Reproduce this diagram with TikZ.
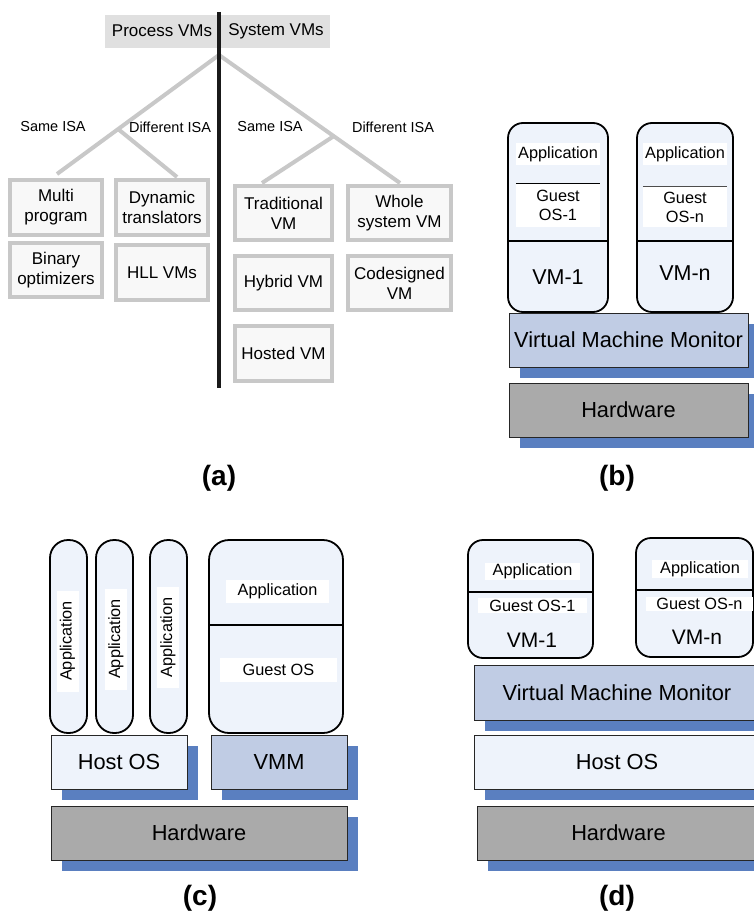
\documentclass[tikz,border=0pt]{standalone}
\usepackage{fontspec}
\setmainfont{Liberation Sans}
\usetikzlibrary{shadows}
\definecolor{lblue}{HTML}{EEF3FB}
\definecolor{vmmc}{HTML}{C0CCE4}
\definecolor{shad}{HTML}{5A7FC0}
\definecolor{hwc}{HTML}{AAAAAA}
\definecolor{tgray}{HTML}{C8C8C8}
\definecolor{tfill}{HTML}{F8F8F8}
\definecolor{hdr}{HTML}{E0E0E0}
\tikzset{
  tbox/.style={draw=tgray, line width=3.5pt, fill=tfill, align=center, inner sep=0pt,
    font=\fontsize{17}{20}\selectfont},
  tline/.style={draw=tgray, line width=4pt},
  isa/.style={font=\fontsize{14.5}{17}\selectfont},
  hdrtext/.style={font=\fontsize{17}{20}\selectfont, inner sep=0pt},
  layer/.style={draw=black!85, line width=1pt, inner sep=0pt, minimum height=54pt,
    font=\fontsize{21.8}{24}\selectfont,
    drop shadow={shadow xshift=11pt, shadow yshift=-11pt, fill=shad, opacity=1}},
  vmb/.style={draw=black, line width=1.8pt, fill=lblue, rounded corners=15pt, inner sep=0pt},
  wlab/.style={fill=white, inner sep=0pt, align=center, font=\fontsize{16.3}{19}\selectfont},
  vmtext/.style={inner sep=0pt, font=\fontsize{21.5}{24}\selectfont},
  divider/.style={draw=black, line width=1.3pt},
  thindiv/.style={draw=black, line width=0.9pt},
  panel/.style={font=\fontsize{28}{32}\selectfont\bfseries, inner sep=0pt}
}
\begin{document}
\begin{tikzpicture}[x=1pt,y=-1pt]
\useasboundingbox (0,0) rectangle (754,920);
\clip (0,0) rectangle (754,920);
\fill[white] (0,0) rectangle (754,920);

% ---------------- (a) ----------------
\fill[hdr] (105,15) rectangle (330,48);
\node[hdrtext] (proc) at (162,31) {Process VMs};
\node[hdrtext] (sys) at (276,31) {System VMs};

\coordinate (apex) at (219,55);
\coordinate (lend) at (57,174);
\coordinate (lbr) at (118,129);
\coordinate (lbrend) at (177,177);
\coordinate (rend) at (400,183);
\coordinate (rbr) at (334,136);
\coordinate (rbrend) at (262,183);
\draw[tline] (apex) -- (lend);
\draw[tline] (lbr) -- (lbrend);
\draw[tline] (apex) -- (rend);
\draw[tline] (rbr) -- (rbrend);

\node[isa] (l1) at (53,127) {Same ISA};
\node[isa] (l2) at (170,127) {Different ISA};
\node[isa] (l3) at (270,127) {Same ISA};
\node[isa] (l4) at (393,127) {Different ISA};

\node[tbox, minimum width=92pt, minimum height=55pt] (multi) at (56,207.5) {Multi\\program};
\node[tbox, minimum width=92pt, minimum height=54pt] (binary) at (56,270) {Binary\\optimizers};
\node[tbox, minimum width=92pt, minimum height=55pt] (dyn) at (162,207.5) {Dynamic\\translators};
\node[tbox, minimum width=92pt, minimum height=55pt] (hll) at (162,272.5) {HLL VMs};
\node[tbox, minimum width=97pt, minimum height=54pt] (trad) at (283.5,213) {Traditional\\VM};
\node[tbox, minimum width=103pt, minimum height=54pt] (whole) at (399.5,213) {Whole\\system VM};
\node[tbox, minimum width=97pt, minimum height=54pt] (hybrid) at (283.5,283) {Hybrid VM};
\node[tbox, minimum width=103pt, minimum height=54pt] (codes) at (399.5,283) {Codesigned\\VM};
\node[tbox, minimum width=97pt, minimum height=55pt] (hosted) at (283.5,353.5) {Hosted VM};

\coordinate (vtop) at (219,12);
\coordinate (vbot) at (219,388);
\draw[black!90, line width=4pt] (vtop) -- (vbot);

\node[panel] (pa) at (219,478) {(a)};

% ---------------- (b) ----------------
\node[vmb, minimum width=100pt, minimum height=189pt] (bvm1) at (558,217.5) {};
\node[vmb, minimum width=96pt, minimum height=189pt] (bvmn) at (685,217.5) {};
\node[wlab, minimum width=84pt, minimum height=22pt] (bapp1) at (558,154) {Application};
\node[wlab, minimum width=84pt, minimum height=43pt] (bgos1) at (558,205.5) {Guest\\OS-1};
\node[wlab, minimum width=84pt, minimum height=22pt] (bappn) at (685,154) {Application};
\node[wlab, minimum width=84pt, minimum height=40pt] (bgosn) at (685,207) {Guest\\OS-n};
\draw[thindiv] (bgos1.north west) -- (bgos1.north east);
\draw[thindiv, black!70] (bgosn.north west) -- (bgosn.north east);
\draw[divider] (bvm1.west |- 0,241) -- (bvm1.east |- 0,241);
\draw[divider] (bvmn.west |- 0,241) -- (bvmn.east |- 0,241);
\node[vmtext] (bt1) at (558,277) {VM-1};
\node[vmtext] (btn) at (685,273) {VM-n};

\node[layer, fill=vmmc, minimum width=239pt] (bvmm) at (628.5,340) {Virtual Machine Monitor};
\node[layer, fill=hwc, minimum width=239pt] (bhw) at (628.5,410) {Hardware};
\node[panel] (pb) at (617,478) {(b)};

% ---------------- (c) ----------------
\node[vmb, rounded corners=18pt, minimum width=37pt, minimum height=193pt] (cp1) at (68.5,636.5) {};
\node[vmb, rounded corners=18pt, minimum width=37pt, minimum height=193pt] (cp2) at (114.5,636.5) {};
\node[vmb, rounded corners=18pt, minimum width=37pt, minimum height=193pt] (cp3) at (168.5,636.5) {};
\node[wlab, rotate=90, minimum width=101pt, minimum height=22pt] (ca1) at (67.5,641) {Application};
\node[wlab, rotate=90, minimum width=101pt, minimum height=22pt] (ca2) at (116,639) {Application};
\node[wlab, rotate=90, minimum width=101pt, minimum height=22pt] (ca3) at (168,637.5) {Application};

\node[vmb, rounded corners=20pt, minimum width=134pt, minimum height=193pt] (cbig) at (276,636.5) {};
\draw[divider] (cbig.west |- 0,625) -- (cbig.east |- 0,625);
\node[wlab, minimum width=103pt, minimum height=23pt] (capp) at (277.5,591.5) {Application};
\node[wlab, minimum width=117pt, minimum height=24pt] (cgos) at (278.5,670) {Guest OS};

\node[layer, fill=lblue, minimum width=136pt] (chost) at (119,762) {Host OS};
\node[layer, fill=vmmc, minimum width=136pt] (cvmm) at (279,762) {VMM};
\node[layer, fill=hwc, minimum width=296pt] (chw) at (199,833) {Hardware};
\node[panel] (pc) at (200,898) {(c)};

% ---------------- (d) ----------------
\node[vmb, minimum width=125pt, minimum height=118pt] (dvm1) at (530.5,599) {};
\node[vmb, minimum width=117pt, minimum height=119pt] (dvmn) at (694.5,597.5) {};
\draw[divider] (dvm1.west |- 0,592) -- (dvm1.east |- 0,592);
\draw[divider] (dvmn.west |- 0,590) -- (dvmn.east |- 0,590);
\node[wlab, minimum width=95pt, minimum height=17pt] (dapp1) at (532.5,571.5) {Application};
\node[wlab, minimum width=109pt, minimum height=15pt] (dgos1) at (532.5,605.5) {Guest OS-1};
\node[vmtext, font=\fontsize{21}{24}\selectfont] (dt1) at (532,640) {VM-1};
\node[wlab, minimum width=96pt, minimum height=18pt] (dappn) at (700,569) {Application};
\node[wlab, minimum width=107pt, minimum height=14pt] (dgosn) at (699.5,604) {Guest OS-n};
\node[vmtext, font=\fontsize{21}{24}\selectfont] (dtn) at (697,637) {VM-n};

\node[layer, fill=vmmc, minimum width=286pt, minimum height=55pt,
  drop shadow={shadow xshift=11pt, shadow yshift=-10pt, fill=shad, opacity=1}] (dvmm) at (617,692.5) {Virtual Machine Monitor};
\node[layer, fill=lblue, minimum width=286pt] (dhost) at (617,762) {Host OS};
\node[layer, fill=hwc, minimum width=283pt] (dhw) at (618.5,833) {Hardware};
\node[panel] (pd) at (617,898) {(d)};
\end{tikzpicture}
\end{document}
